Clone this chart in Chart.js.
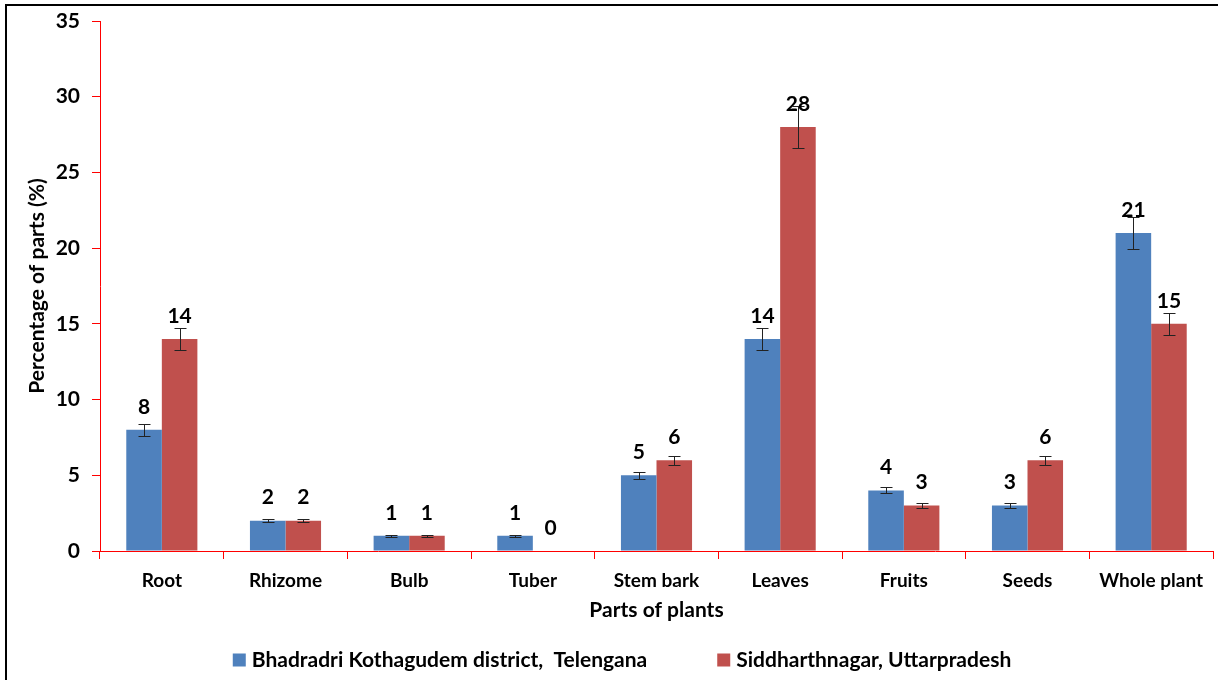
<!DOCTYPE html>
<html>
<head>
<meta charset="utf-8">
<script src="https://cdn.jsdelivr.net/npm/chart.js@4"></script>
<style>
  html, body { margin: 0; padding: 0; background: #fff; }
  #wrap { width: 1218px; height: 680px; }
</style>
</head>
<body>
<div id="wrap"><canvas id="grafico" width="1218" height="680"></canvas></div>
<script>
// categorias y valores
const partes = ['Root', 'Rhizome', 'Bulb', 'Tuber', 'Stem bark', 'Leaves', 'Fruits', 'Seeds', 'Whole plant'];
const telengana = [8, 2, 1, 1, 5, 14, 4, 3, 21];
const uttar = [14, 2, 1, 0, 6, 28, 3, 6, 15];
// barras de error (+/-)
const errTelengana = [0.4, 0.1, 0.05, 0.05, 0.25, 0.7, 0.2, 0.15, 1.05];
const errUttar = [0.7, 0.1, 0.05, 0, 0.3, 1.4, 0.15, 0.3, 0.75];
const yTicks = [0, 5, 10, 15, 20, 25, 30, 35];

const fuente = 'Lato, "Open Sans", sans-serif';

// plugin: barras de error, etiquetas, leyenda y marco
const extras = {
  id: 'extras',
  afterDatasetsDraw(chart) {
    const ctx = chart.ctx;
    const y = chart.scales.y;
    const errores = [errTelengana, errUttar];
    chart.data.datasets.forEach((ds, i) => {
      const meta = chart.getDatasetMeta(i);
      meta.data.forEach((bar, j) => {
        const v = ds.data[j];
        const e = errores[i][j];
        const cx = Math.round(bar.x) + 0.5;
        if (e > 0) {
          const top = Math.round(y.getPixelForValue(v + e)) + 0.5;
          const bot = Math.round(y.getPixelForValue(v - e)) + 0.5;
          ctx.save();
          ctx.strokeStyle = '#222';
          ctx.lineWidth = 1;
          ctx.beginPath();
          ctx.moveTo(cx, top); ctx.lineTo(cx, bot);
          ctx.moveTo(cx - 6, top); ctx.lineTo(cx + 6, top);
          ctx.moveTo(cx - 6, bot); ctx.lineTo(cx + 6, bot);
          ctx.stroke();
          ctx.restore();
        }
        ctx.save();
        ctx.fillStyle = '#000';
        ctx.font = 'bold 21px ' + fuente;
        ctx.textAlign = 'center';
        ctx.textBaseline = 'middle';
        ctx.fillText(String(v), bar.x, y.getPixelForValue(v) - 23);
        ctx.restore();
      });
    });
  },
  afterDraw(chart) {
    const ctx = chart.ctx;
    // leyenda abajo
    ctx.save();
    ctx.font = 'bold 21px ' + fuente;
    ctx.textBaseline = 'middle';
    const caja = 13, sep = 6, hueco = 70, ly = 660;
    const items = chart.data.datasets.map(ds => ({ texto: ds.label, color: ds.backgroundColor }));
    let total = 0;
    items.forEach((it, k) => {
      it.w = caja + sep + ctx.measureText(it.texto).width;
      total += it.w + (k > 0 ? hueco : 0);
    });
    let x = 622 - total / 2;
    items.forEach(it => {
      ctx.fillStyle = it.color;
      ctx.fillRect(x, ly - caja / 2, caja, caja);
      ctx.fillStyle = '#000';
      ctx.fillText(it.texto, x + caja + sep, ly);
      x += it.w + hueco;
    });
    ctx.restore();

    // marco exterior (solo arriba e izquierda como en la figura)
    ctx.save();
    ctx.strokeStyle = '#000';
    ctx.lineWidth = 2;
    ctx.beginPath();
    ctx.moveTo(6, 680);
    ctx.lineTo(6, 5);
    ctx.lineTo(1218, 5);
    ctx.stroke();
    ctx.restore();
  }
};

const chart = new Chart(document.getElementById('grafico'), {
  type: 'bar',
  data: {
    labels: partes,
    datasets: [
      {
        label: 'Bhadradri Kothagudem district,  Telengana',
        data: telengana,
        backgroundColor: '#4F81BD',
        categoryPercentage: 0.575,
        barPercentage: 1
      },
      {
        label: 'Siddharthnagar, Uttarpradesh',
        data: uttar,
        backgroundColor: '#C0504D',
        categoryPercentage: 0.575,
        barPercentage: 1
      }
    ]
  },
  options: {
    responsive: false,
    animation: false,
    layout: { padding: { left: 0, right: 5, top: 21, bottom: 57 } },
    plugins: {
      legend: { display: false },
      tooltip: { enabled: false }
    },
    scales: {
      x: {
        grid: { drawOnChartArea: false, color: '#FF0000', tickLength: 8, offset: true },
        border: { color: '#FF0000', width: 1 },
        ticks: { color: '#000', padding: 10, font: { family: fuente, size: 19, weight: 'bold' } },
        title: {
          display: true,
          text: 'Parts of plants',
          color: '#000',
          padding: { top: 0, bottom: 0 },
          font: { family: fuente, size: 21, weight: 'bold' }
        },
        afterFit(scale) {
          scale.height = 72;
          scale.paddingLeft = 0;
          scale.paddingRight = 0;
        }
      },
      y: {
        min: 0,
        max: 35,
        afterBuildTicks(scale) { scale.ticks = yTicks.map(v => ({ value: v })); },
        grid: { drawOnChartArea: false, color: '#FF0000', tickLength: 8 },
        border: { color: '#FF0000', width: 1 },
        ticks: { color: '#000', padding: 12, font: { family: fuente, size: 21, weight: 'bold' } },
        title: {
          display: true,
          text: 'Percentage of parts (%)',
          color: '#000',
          padding: { top: 25, bottom: 0 },
          font: { family: fuente, size: 21, weight: 'bold' }
        },
        afterFit(scale) {
          scale.width = 100;
          scale.paddingTop = 0;
          scale.paddingBottom = 0;
        }
      }
    }
  },
  plugins: [extras]
});
</script>
</body>
</html>
